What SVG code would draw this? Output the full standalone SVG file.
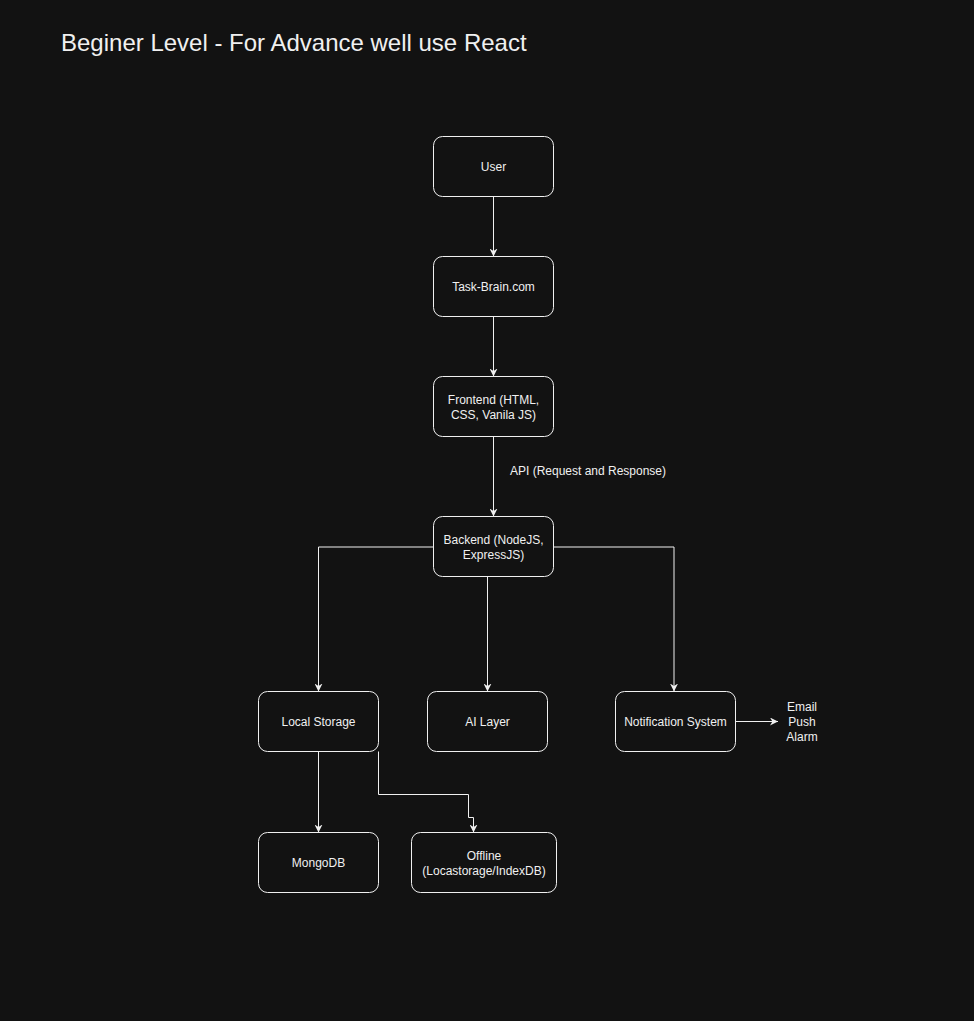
<svg xmlns="http://www.w3.org/2000/svg" width="974" height="1021" viewBox="0 0 974 1021">
<defs>
<marker id="arr" viewBox="0 0 10 10" refX="10" refY="5" markerWidth="8" markerHeight="8" markerUnits="userSpaceOnUse" orient="auto">
<path d="M0,0 L10,5 L0,10 L3,5 Z" fill="#f0f0f0"/>
</marker>
</defs>
<style>
.n rect{fill:#121212;stroke:#f0f0f0;stroke-width:1}
.n text,.lbl{font-family:"Liberation Sans",Arial,sans-serif;font-size:12px;fill:#f0f0f0;text-anchor:middle}
.e path{fill:none;stroke:#f0f0f0;stroke-width:1;marker-end:url(#arr)}
</style>
<rect width="974" height="1021" fill="#121212"/>
<text x="61" y="51" font-family="Liberation Sans,Arial,sans-serif" font-size="24" fill="#f0f0f0">Beginer Level - For Advance well use React</text>
<g class="e" id="connectors">
<path d="M493.5,196.5 V256.5"/>
<path d="M493.5,316.5 V376.5"/>
<path d="M493.5,436.5 V516.5"/>
<path d="M433.5,547 H318.5 V691.5"/>
<path d="M487.5,576.5 V691.5"/>
<path d="M553.5,547 H674 V691.5"/>
<path d="M318.5,751.5 V832.5"/>
<path d="M378.5,751.5 V794.5 H468.5 V817.5 H473.5 V832.5"/>
<path d="M735.5,721.5 H778"/>
</g>
<text class="lbl" x="588" y="475">API (Request and Response)</text>
<g class="n" id="user"><rect x="433.5" y="136.5" width="120" height="60" rx="9"/><text x="493.5" y="171">User</text></g>
<g class="n" id="taskbrain"><rect x="433.5" y="256.5" width="120" height="60" rx="9"/><text x="493.5" y="291">Task-Brain.com</text></g>
<g class="n" id="frontend"><rect x="433.5" y="376.5" width="120" height="60" rx="9"/><text x="493.5" y="404">Frontend (HTML,</text><text x="493.5" y="419">CSS, Vanila JS)</text></g>
<g class="n" id="backend"><rect x="433.5" y="516.5" width="120" height="60" rx="9"/><text x="493.5" y="544">Backend (NodeJS,</text><text x="493.5" y="559">ExpressJS)</text></g>
<g class="n" id="localstorage"><rect x="258.5" y="691.5" width="120" height="60" rx="9"/><text x="318.5" y="726">Local Storage</text></g>
<g class="n" id="ailayer"><rect x="427.5" y="691.5" width="120" height="60" rx="9"/><text x="487.5" y="726">AI Layer</text></g>
<g class="n" id="notification"><rect x="615.5" y="691.5" width="120" height="60" rx="9"/><text x="675.5" y="726">Notification System</text></g>
<g class="n" id="mongodb"><rect x="258.5" y="832.5" width="120" height="60" rx="9"/><text x="318.5" y="867">MongoDB</text></g>
<g class="n" id="offline"><rect x="411.5" y="832.5" width="145" height="60" rx="9"/><text x="484" y="860">Offline</text><text x="484" y="875">(Locastorage/IndexDB)</text></g>
<g class="n" id="channels"><text x="802" y="711">Email</text><text x="802" y="726">Push</text><text x="802" y="741">Alarm</text></g>
</svg>
